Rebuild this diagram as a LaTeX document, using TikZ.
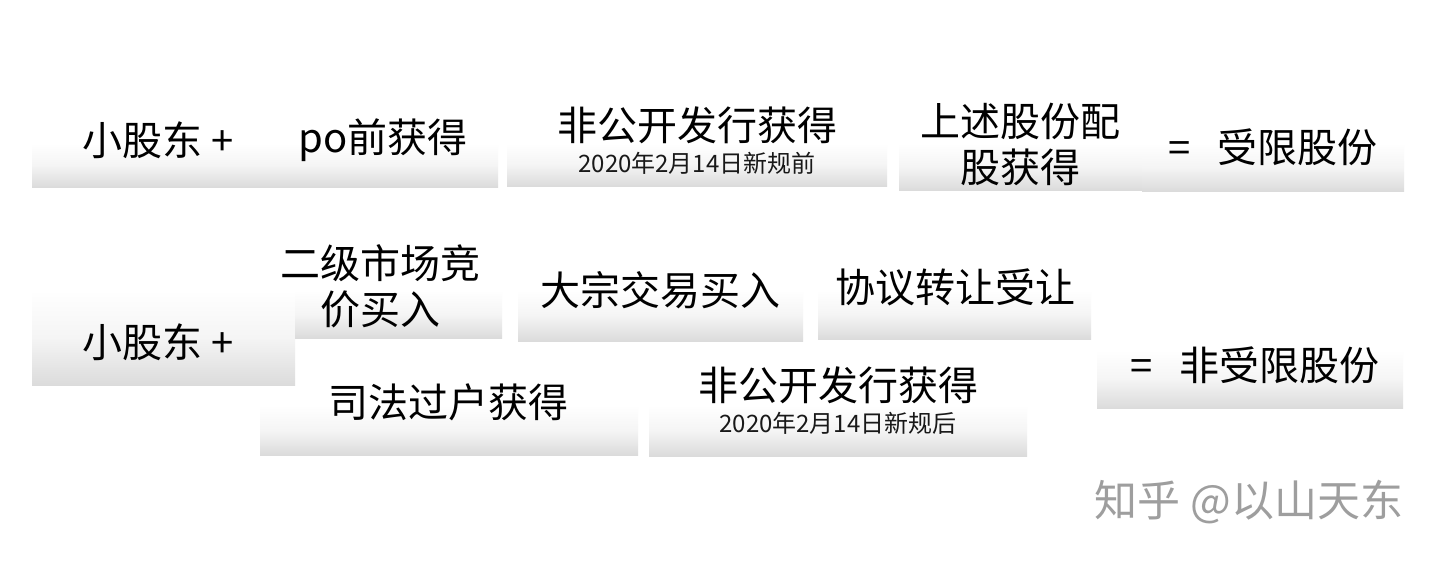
\documentclass[tikz,border=0pt]{standalone}
\usepackage{fontspec}
\setmainfont{Noto Sans CJK SC}
\begin{document}
\begin{tikzpicture}[x=1pt,y=-1pt,
  box/.style={top color=white, bottom color=black!14, middle color=black!4, draw=none},
  big/.style={font=\fontsize{40}{46}\selectfont, align=center, inner sep=0pt, text=black},
  small/.style={font=\fontsize{24}{28}\selectfont, inner sep=0pt, text=black!90}]
\useasboundingbox[fill=white] (0,0) rectangle (1440,563);
% row 1 boxes
\shade[box] (32,143) rectangle (498,187);
\shade[box] (507,143) rectangle (887,186);
\shade[box] (899,143) rectangle (1142,190);
\shade[box] (1142,143) rectangle (1404,191);
% row 2 boxes
\shade[box] (32,290) rectangle (295,385);
\shade[box] (295,290) rectangle (502,338);
\shade[box] (518,290) rectangle (803,341);
\shade[box] (818,290) rectangle (1091,339);
\shade[box] (260,405) rectangle (638,455);
\shade[box] (649,405) rectangle (1027,456);
\shade[box] (1097,350) rectangle (1403,408);
% row 1 texts
\node[big] (a1) at (158,140) {小股东 +};
\node[big] (a2) at (383,140) {po前获得};
\node[big] (a3) at (697,125) {非公开发行获得};
\node[small] (a3s) at (697,163) {2020年2月14日新规前};
\node[big] (a4) at (1020,144) {上述股份配\\股获得};
\node[big] (a5) at (1273,147) {=\hspace{26pt}受限股份};
% row 2 texts
\node[big] (b1) at (158,342) {小股东 +};
\node[big] (b2) at (380,286) {二级市场竞\\价买入};
\node[big] (b3) at (660,290) {大宗交易买入};
\node[big] (b4) at (955,287) {协议转让受让};
\node[big] (b5) at (448,402) {司法过户获得};
\node[big] (b6) at (838,385) {非公开发行获得};
\node[small] (b6s) at (838,423) {2020年2月14日新规后};
\node[big] (b7) at (1255,365) {=\hspace{26pt}非受限股份};
% watermark
\node[big, font=\fontsize{43}{48}\selectfont, text=black!38] (wm) at (1249,502) {知乎 @以山天东};
\end{tikzpicture}
\end{document}
